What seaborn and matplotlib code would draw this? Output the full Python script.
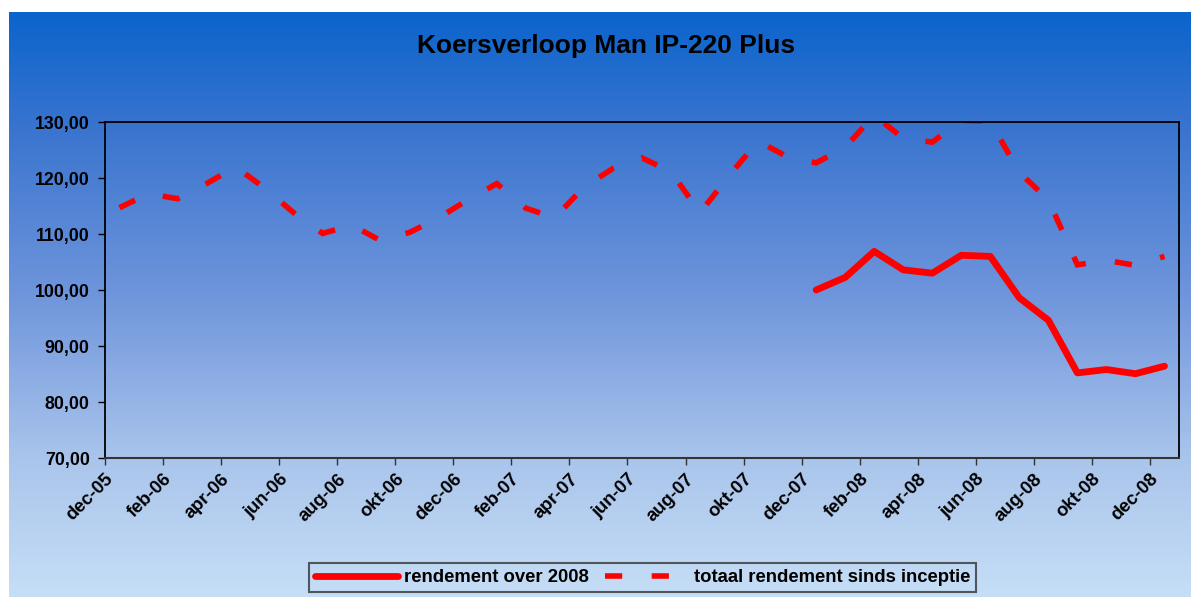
import numpy as np
import pandas as pd
import matplotlib
matplotlib.use("Agg")
import matplotlib.pyplot as plt
import seaborn as sns
from matplotlib.ticker import FuncFormatter
from matplotlib.lines import Line2D

# ---------------- data ----------------
months = ["dec-05", "jan-06", "feb-06", "mrt-06", "apr-06", "mei-06", "jun-06",
          "jul-06", "aug-06", "sep-06", "okt-06", "nov-06", "dec-06",
          "jan-07", "feb-07", "mrt-07", "apr-07", "mei-07", "jun-07",
          "jul-07", "aug-07", "sep-07", "okt-07", "nov-07", "dec-07",
          "jan-08", "feb-08", "mrt-08", "apr-08", "mei-08", "jun-08",
          "jul-08", "aug-08", "sep-08", "okt-08", "nov-08", "dec-08"]

totaal = [114.7, 117.2, 116.3, 119.0, 122.0, 118.2, 113.8,
          110.1, 111.6, 108.8, 110.3, 112.9, 116.1,
          119.0, 114.6, 112.9, 118.4, 121.7, 123.6,
          121.1, 113.8, 120.4, 126.6, 123.8, 122.7,
          125.5, 131.2, 127.1, 126.4, 130.3, 130.1,
          121.0, 116.1, 104.5, 105.3, 104.4, 106.0]

rendement_months = months[24:]
rendement_2008 = [100.0, 102.25, 106.9, 103.6, 103.0, 106.2, 106.0,
                  98.6, 94.6, 85.2, 85.8, 85.05, 86.4]

tick_labels = months[::2]
y_ticks = [70, 80, 90, 100, 110, 120, 130]

title = "Koersverloop Man IP-220 Plus"
label_solid = "rendement over 2008"
label_dash = "totaal rendement sinds inceptie"

# ---------------- figure ----------------
W, H = 1191, 597
plt.rcParams['font.family'] = ['Liberation Sans', 'DejaVu Sans']
plt.rcParams['font.weight'] = 'bold'
fig = plt.figure(figsize=(W / 100, H / 100), dpi=100)
fig.patch.set_facecolor("white")

# gradient background
bg = fig.add_axes([9 / W, 0, 1 - 9 / W, 1 - 12 / H], zorder=-10)
n = 600
stop_pos = np.array([0.0, 0.20, 0.49, 0.765, 1.0])
stop_col = np.array([[10, 100, 204], [58, 116, 207], [112, 150, 220],
                     [170, 197, 236], [198, 222, 246]]) / 255.0
t = np.linspace(0, 1, n)
grad = np.stack([np.interp(t, stop_pos, stop_col[:, c]) for c in range(3)], axis=-1)
bg.imshow(grad[:, None, :], aspect='auto', extent=[0, 1, 0, 1], interpolation='bilinear')
bg.set_axis_off()

ax = fig.add_axes([105 / W, (597 - 458) / H, (1179 - 105) / W, (458 - 122) / H])
ax.set_facecolor("none")

df_tot = pd.DataFrame({"idx": np.arange(len(months)), "val": totaal})
df_ren = pd.DataFrame({"idx": np.arange(len(rendement_months)) + months.index(rendement_months[0]),
                       "val": rendement_2008})

dash_style = (0, (3.1, 5.3))
sns.lineplot(data=df_ren, x="idx", y="val", ax=ax, color="#ff0000", lw=4.9,
             solid_capstyle="round", solid_joinstyle="round", legend=False)
sns.lineplot(data=df_tot, x="idx", y="val", ax=ax, color="#ff0000", lw=4.0,
             linestyle=dash_style, dash_capstyle="butt", dash_joinstyle="miter", legend=False)

ax.set_xlim(-0.5, len(months) - 0.5)
ax.set_ylim(70, 130)
ax.set_xticks(np.arange(0, len(months), 2) - 0.5)
ax.set_xticklabels(tick_labels, rotation=45, ha="right", va="top",
                   rotation_mode="anchor", fontsize=13.3, fontweight="bold")
ax.set_yticks(y_ticks)
ax.yaxis.set_major_formatter(FuncFormatter(lambda v, p: f"{v:.2f}".replace(".", ",")))
ax.tick_params(axis="y", direction="out", length=5, width=1, colors="black",
               labelsize=12.8, pad=6)
ax.tick_params(axis="x", direction="out", length=5, width=1, colors="#333333",
               labelcolor="black", pad=4)
for lbl in ax.get_yticklabels():
    lbl.set_fontweight("bold")
ax.set_xlabel("")
ax.set_ylabel("")
for side in ["left", "top", "right"]:
    ax.spines[side].set_color("black")
    ax.spines[side].set_linewidth(1.3)
ax.spines["bottom"].set_color("#333333")
ax.spines["bottom"].set_linewidth(1.5)

fig.text(606 / W, 1 - 46 / H, title, ha="center", va="center",
         fontsize=19, fontweight="bold", color="black")

handles = [Line2D([], [], color="#ff0000", lw=4.9, solid_capstyle="round"),
           Line2D([], [], color="#ff0000", lw=4.0, linestyle=dash_style, dash_capstyle="butt")]
leg = fig.legend(handles, [label_solid, label_dash], loc="center",
                 bbox_to_anchor=(642.5 / W, 1 - 577.5 / H), ncol=2, frameon=True,
                 fancybox=False, edgecolor="#333333", facecolor="none",
                 prop={"size": 13.3, "weight": "bold"}, handlelength=4.5,
                 handletextpad=0.3, columnspacing=0.9, borderpad=0.3)
leg.get_frame().set_linewidth(1.5)

fig.savefig("out.png", dpi=100)
